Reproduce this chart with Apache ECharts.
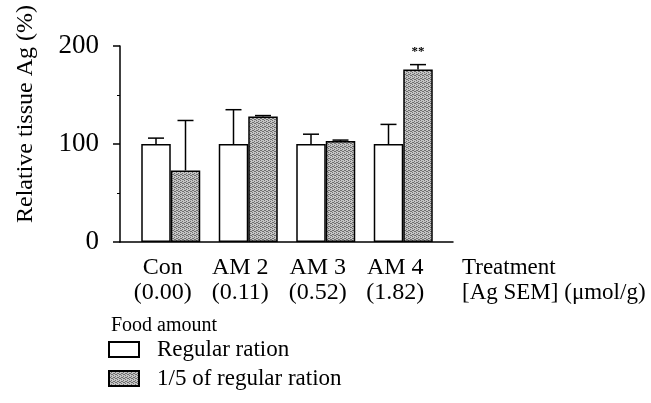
<!DOCTYPE html>
<html>
<head>
<meta charset="utf-8">
<script src="https://cdn.jsdelivr.net/npm/echarts@6/dist/echarts.min.js"></script>
<style>
  html, body { margin: 0; padding: 0; background: #fff; }
  #chart { width: 651px; height: 403px; }
</style>
</head>
<body>
<div id="chart"></div>
<script>
// data
const treatments = ['Con', 'AM 2', 'AM 3', 'AM 4'];
const semDoses = ['(0.00)', '(0.11)', '(0.52)', '(1.82)'];
const regularMean = [100, 100, 100, 100];
const regularUpper = [106, 135, 110, 120];
const reducedMean = [73, 128, 103, 176];
const reducedUpper = [124, 129, 104, 181];
const reducedMarks = ['', '', '', '**'];
const yTicks = [0, 100, 200];

const serif = 'Liberation Serif';
const half = 14.75; // half bar width, used to place the error bars

// grainy grey fill like the printed screen tone
function grainPattern() {
  const c = document.createElement('canvas');
  c.width = 4;
  c.height = 4;
  const ctx = c.getContext('2d');
  ctx.fillStyle = '#c4c4c4';
  ctx.fillRect(0, 0, 4, 4);
  ctx.fillStyle = '#6e6e6e';
  [[0, 0], [2, 1], [1, 2], [3, 3], [2, 3], [0, 2]].forEach(p => ctx.fillRect(p[0], p[1], 1, 1));
  return c;
}

function errorSeries(name, means, upper, shift, marks) {
  return {
    type: 'custom',
    name: name,
    xAxisIndex: 0,
    yAxisIndex: 0,
    z: 1,
    silent: true,
    data: means.map((m, i) => [i, m, upper[i]]),
    renderItem(params, api) {
      const base = api.coord([api.value(0), api.value(1)]);
      const top = api.coord([api.value(0), api.value(2)]);
      const x = base[0] + shift;
      const children = [
        { type: 'line', shape: { x1: x, y1: base[1], x2: x, y2: top[1] }, style: { stroke: '#000', lineWidth: 1.5 } },
        { type: 'line', shape: { x1: x - 8, y1: top[1], x2: x + 8, y2: top[1] }, style: { stroke: '#000', lineWidth: 1.5 } }
      ];
      const mark = marks && marks[params.dataIndex];
      if (mark) {
        children.push({
          type: 'text',
          style: { text: mark, x: x, y: top[1] - 6, align: 'center', verticalAlign: 'bottom',
                   font: 'bold 13px "Liberation Serif"', fill: '#000' }
        });
      }
      return { type: 'group', children: children };
    }
  };
}

const chart = echarts.init(document.getElementById('chart'));
const grain = { image: grainPattern(), repeat: 'repeat' };

chart.setOption({
  animation: false,
  backgroundColor: '#fff',
  textStyle: { fontFamily: serif, color: '#000' },
  title: {
    text: 'Food amount',
    left: 111,
    top: 316,
    padding: 0,
    textStyle: { fontFamily: serif, fontSize: 20, fontWeight: 'normal', color: '#000' }
  },
  legend: {
    data: ['Regular ration', '1/5 of regular ration'],
    orient: 'vertical',
    left: 108,
    top: 338,
    padding: 0,
    itemWidth: 30,
    itemHeight: 15,
    itemGap: 6,
    icon: 'rect',
    textStyle: { fontFamily: serif, fontSize: 23, color: '#000', padding: [0, 0, 0, 13] }
  },
  grid: [
    { left: 132, right: 209, top: 46, bottom: 161, outerBoundsMode: 'none' },
    { left: 120, right: 198, top: 46, bottom: 161, outerBoundsMode: 'none' }
  ],
  xAxis: [
    {
      type: 'category',
      gridIndex: 0,
      data: treatments.map((t, i) => t + '\n' + semDoses[i]),
      axisLine: { show: false },
      axisTick: { show: false },
      axisLabel: {
        fontFamily: serif, fontSize: 24, lineHeight: 25, color: '#000',
        margin: 13, interval: 0, padding: [0, 16, 0, 0]
      }
    },
    {
      type: 'value',
      gridIndex: 1,
      min: 0,
      max: 1,
      axisLine: { show: true, lineStyle: { color: '#000', width: 1.5 } },
      axisTick: { show: false },
      axisLabel: { show: false },
      splitLine: { show: false },
      name: 'Treatment\n[Ag SEM] (\u03bcmol/g)',
      nameLocation: 'end',
      nameGap: 9,
      nameTextStyle: {
        fontFamily: serif, fontSize: 23, lineHeight: 25, color: '#000',
        align: 'left', verticalAlign: 'top', padding: [13, 0, 0, 0]
      }
    }
  ],
  yAxis: [
    {
      type: 'value',
      gridIndex: 0,
      offset: 12,
      min: yTicks[0],
      max: yTicks[yTicks.length - 1],
      interval: yTicks[1] - yTicks[0],
      axisLine: { show: true, lineStyle: { color: '#000', width: 1.5 } },
      axisTick: { show: true, length: 7, lineStyle: { color: '#000', width: 1.5 } },
      minorTick: { show: true, splitNumber: 2, length: 3, lineStyle: { color: '#000', width: 1 } },
      splitLine: { show: false },
      axisLabel: { fontFamily: serif, fontSize: 27, color: '#000', margin: 21 },
      name: 'Relative tissue Ag (%)',
      nameLocation: 'middle',
      nameGap: 82,
      nameTextStyle: { fontFamily: serif, fontSize: 24, color: '#000', padding: [0, 0, 0, 60] }
    },
    { type: 'value', gridIndex: 1, show: false, min: 0, max: 1 }
  ],
  series: [
    {
      name: 'Regular ration',
      type: 'bar',
      xAxisIndex: 0,
      yAxisIndex: 0,
      barWidth: 29.5,
      barGap: '0%',
      z: 2,
      data: regularMean,
      itemStyle: { color: '#fff', borderColor: '#000', borderWidth: 1.5 }
    },
    {
      name: '1/5 of regular ration',
      type: 'bar',
      xAxisIndex: 0,
      yAxisIndex: 0,
      barWidth: 29.5,
      barGap: '0%',
      z: 2,
      data: reducedMean,
      itemStyle: { color: grain, borderColor: '#000', borderWidth: 1.5 }
    },
    errorSeries('Regular SEM', regularMean, regularUpper, -half, null),
    errorSeries('Reduced SEM', reducedMean, reducedUpper, half, reducedMarks)
  ]
});
</script>
</body>
</html>
